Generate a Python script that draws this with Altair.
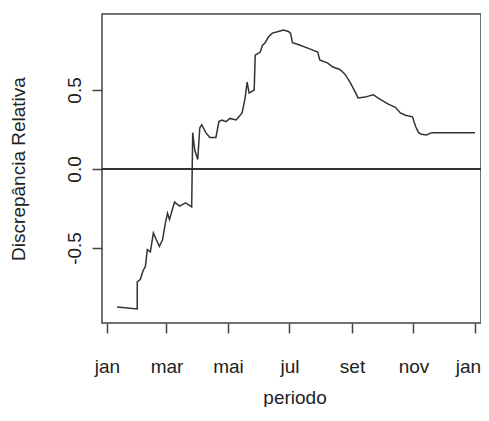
import altair as alt
import pandas as pd

# day of year and relative discrepancy
dia = [10, 30, 30, 33, 36, 38, 40, 43, 46, 49, 52, 55, 58, 60, 62, 67, 72, 78, 84,
       85, 87, 90, 92, 94, 98, 102, 108, 111, 114, 118, 122, 128, 134, 137, 139, 141,
       146, 147, 152, 154, 157, 160, 164, 170, 175, 180, 182, 184, 191, 201, 209, 211,
       219, 224, 231, 236, 241, 246, 249, 256, 264, 271, 279, 286, 291, 296, 303, 306,
       309, 312, 317, 322, 365]
discrepancia = [-0.873, -0.886, -0.715, -0.70, -0.64, -0.62, -0.51, -0.525, -0.405, -0.45,
                -0.49, -0.45, -0.34, -0.28, -0.32, -0.21, -0.235, -0.215, -0.24,
                0.23, 0.12, 0.06, 0.26, 0.28, 0.23, 0.20, 0.20, 0.30, 0.31, 0.30, 0.32,
                0.31, 0.355, 0.45, 0.55, 0.48, 0.50, 0.72, 0.74, 0.78, 0.80, 0.835, 0.86,
                0.87, 0.88, 0.87, 0.86, 0.80, 0.785, 0.76, 0.74, 0.69, 0.67, 0.645, 0.63,
                0.60, 0.55, 0.49, 0.45, 0.455, 0.47, 0.44, 0.41, 0.39, 0.355, 0.34, 0.33,
                0.27, 0.23, 0.22, 0.215, 0.23, 0.23]

tick_days = [0, 59, 120, 181, 243, 304, 365]
tick_labels = ["jan", "mar", "mai", "jul", "set", "nov", "jan"]
y_ticks = [-0.5, 0.0, 0.5]

df = pd.DataFrame({"dia": dia, "d": discrepancia})

label_expr = "''"
for dv, lb in reversed(list(zip(tick_days, tick_labels))):
    label_expr = f"datum.value == {dv} ? '{lb}' : ({label_expr})"

y_label_expr = "datum.value < 0 ? '-' + format(-datum.value, '.1f') : format(datum.value, '.1f')"

FONT = "Liberation Sans"
FS = 19
TXT = "#222222"

x_enc = alt.X(
    "dia:Q",
    scale=alt.Scale(domain=[-4.96, 370.95], nice=False, zero=False),
    axis=alt.Axis(
        values=tick_days, labelExpr=label_expr, grid=False, domain=False,
        tickSize=10, tickColor="#444444", tickWidth=1.5,
        labelPadding=39, labelBaseline="alphabetic", labelFontSize=FS,
        labelFont=FONT, labelColor=TXT,
        labelOffset={"condition": {"test": f"datum.value == {tick_days[-1]}", "value": -7}, "value": 0},
        title="periodo", titleFont=FONT, titleFontSize=FS, titleFontWeight="normal",
        titleColor=TXT, titleBaseline="alphabetic", titleY=80, titleX=192.5,
        labelFlush=False,
    ),
)
y_enc = alt.Y(
    "d:Q",
    scale=alt.Scale(domain=[-0.975, 0.981], nice=False, zero=False),
    axis=alt.Axis(
        values=y_ticks, labelExpr=y_label_expr, grid=False, domain=False,
        tickSize=10, tickColor="#444444", tickWidth=1.5,
        labelAngle=270, labelAlign="center", labelBaseline="alphabetic",
        labelPadding=12, labelFontSize=FS, labelFont=FONT, labelColor=TXT,
        title="Discrepância Relativa", titleFont=FONT, titleFontSize=FS,
        titleFontWeight="normal", titleColor=TXT, titleAngle=270,
        titleAlign="center", titleBaseline="alphabetic", titleX=-78, titleY=154.5,
        labelFlush=False,
    ),
)

line = alt.Chart(df).mark_line(color="#333333", strokeWidth=1.5).encode(x=x_enc, y=y_enc)
zero = alt.Chart(df).mark_rule(color="#333333", strokeWidth=1.2).encode(y=alt.datum(0))

chart = (
    alt.layer(line, zero)
    .properties(
        width=379, height=309, autosize="none",
        padding={"left": 94, "top": 6, "right": 0, "bottom": 84},
        background="white",
    )
    .configure_view(stroke="#444444", strokeWidth=1.5)
)

chart.save("out.html", embed_options={"renderer": "svg", "actions": False})
